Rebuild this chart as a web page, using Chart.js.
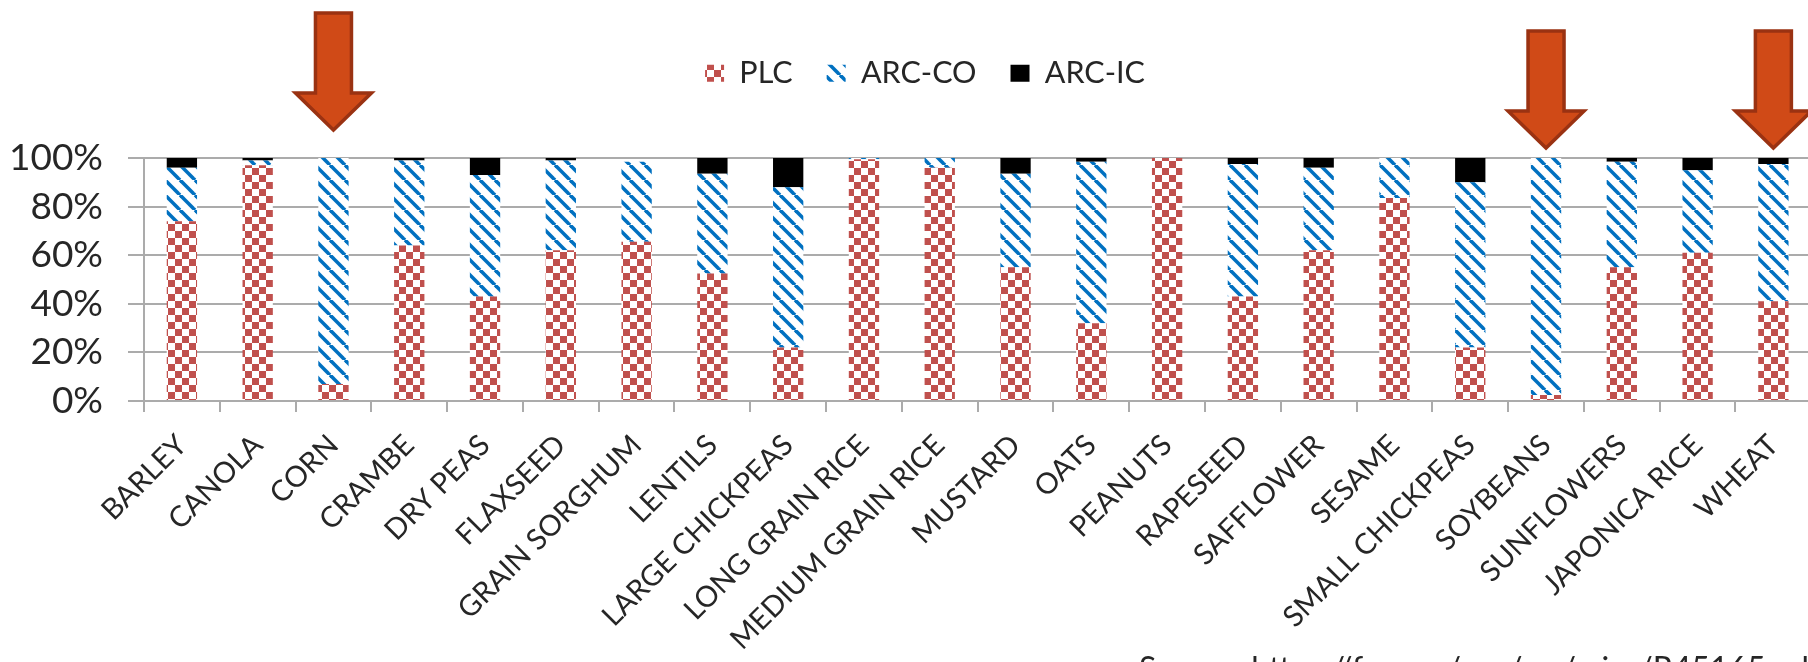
<!DOCTYPE html>
<html>
<head>
<meta charset="utf-8">
<title>PLC / ARC-CO / ARC-IC by crop</title>
<script src="https://cdn.jsdelivr.net/npm/chart.js@4/dist/chart.umd.min.js"></script>
<style>
  html, body { margin: 0; padding: 0; background: #fff; overflow: hidden; }
  #wrap { width: 1808px; height: 662px; overflow: hidden; }
  canvas { display: block; }
</style>
</head>
<body>
<div id="wrap"><canvas id="chart" width="1814" height="662"></canvas></div>
<script>
// ===== DATA (share of base acres, %) =====
const crops = [
  "BARLEY", "CANOLA", "CORN", "CRAMBE", "DRY PEAS", "FLAXSEED", "GRAIN SORGHUM",
  "LENTILS", "LARGE CHICKPEAS", "LONG GRAIN RICE", "MEDIUM GRAIN RICE", "MUSTARD",
  "OATS", "PEANUTS", "RAPESEED", "SAFFLOWER", "SESAME", "SMALL CHICKPEAS",
  "SOYBEANS", "SUNFLOWERS", "JAPONICA RICE", "WHEAT"
];
const plc   = [74, 97, 7, 64, 43, 62, 65.5, 52.5, 22, 99.5, 96, 55, 32, 100, 43, 62, 83.5, 22, 2.5, 55, 61, 41];
const arcCo = [22, 2, 93, 35, 50, 37, 33, 41, 66, 0.5, 4, 38.5, 66.5, 0, 54.5, 34, 16.5, 68, 97.5, 43.5, 34, 56.5];
const arcIc = [4, 1, 0, 1, 7, 1, 0, 6.5, 12, 0, 0, 6.5, 1.5, 0, 2.5, 4, 0, 10, 0, 1.5, 5, 2.5];
const yTicks = [0, 20, 40, 60, 80, 100];
const markedCrops = ["CORN", "SOYBEANS", "WHEAT"];
const sourceNote = "Source: https://fas.org/sgp/crs/misc/R45165.pdf";

const TEXT = "#262626";
const GRID = "#ABABAB";

// ===== PATTERNS =====
function checkerPattern(color) {
  const c = document.createElement("canvas");
  c.width = c.height = 14;
  const x = c.getContext("2d");
  x.fillStyle = "#fff";
  x.fillRect(0, 0, 14, 14);
  x.fillStyle = color;
  x.fillRect(0, 0, 7, 7);
  x.fillRect(7, 7, 7, 7);
  return x.createPattern(c, "repeat");
}

function stripePattern(color) {
  const s = 15;
  const c = document.createElement("canvas");
  c.width = c.height = s;
  const x = c.getContext("2d");
  x.fillStyle = "#fff";
  x.fillRect(0, 0, s, s);
  x.strokeStyle = color;
  x.lineWidth = 3.6;
  for (let k = -1; k <= 1; k++) {
    x.beginPath();
    x.moveTo(k * s, 0);
    x.lineTo(k * s + s, s);
    x.stroke();
  }
  return x.createPattern(c, "repeat");
}

// ===== PLUGINS =====
// legend keeps the band above the plot (arrows live there too)
const legendBand = {
  id: "legendBand",
  beforeInit(chart) {
    const fit = chart.legend.fit;
    chart.legend.fit = function () {
      fit.call(this);
      this.height = 134;
    };
  },
  afterLayout(chart) {
    chart.legend.left += 18;
    chart.legend.right += 18;
  }
};

const arrowsAndNote = {
  id: "arrowsAndNote",
  afterDraw(chart) {
    const ctx = chart.ctx;
    const xs = chart.scales.x;
    ctx.save();
    markedCrops.forEach((name, i) => {
      const cx = xs.getPixelForValue(crops.indexOf(name));
      const top = i === 0 ? 13 : 31;
      const headY = top + 80, tipY = top + 117;
      ctx.beginPath();
      ctx.moveTo(cx - 18, top);
      ctx.lineTo(cx + 18, top);
      ctx.lineTo(cx + 18, headY);
      ctx.lineTo(cx + 38, headY);
      ctx.lineTo(cx, tipY);
      ctx.lineTo(cx - 38, headY);
      ctx.lineTo(cx - 18, headY);
      ctx.closePath();
      ctx.fillStyle = "#D04A17";
      ctx.fill();
      ctx.lineWidth = 3.5;
      ctx.lineJoin = "miter";
      ctx.strokeStyle = "#9A3212";
      ctx.stroke();
    });
    ctx.font = "32px Lato";
    ctx.fillStyle = TEXT;
    ctx.textAlign = "left";
    ctx.textBaseline = "alphabetic";
    ctx.fillText(sourceNote, 1139, 680);
    ctx.restore();
  }
};

// ===== CHART =====
const ctx = document.getElementById("chart");
new Chart(ctx, {
  type: "bar",
  data: {
    labels: crops,
    datasets: [
      { label: "PLC", data: plc, backgroundColor: checkerPattern("#C0504D") },
      { label: "ARC-CO", data: arcCo, backgroundColor: stripePattern("#0070C0") },
      { label: "ARC-IC", data: arcIc, backgroundColor: "#000" }
    ]
  },
  options: {
    responsive: false,
    animation: false,
    layout: { padding: { top: 24, left: 0, right: 0, bottom: 0 } },
    datasets: {
      bar: { barPercentage: 0.4, categoryPercentage: 1, borderWidth: 0 }
    },
    plugins: {
      legend: {
        position: "top",
        labels: {
          boxWidth: 19,
          boxHeight: 17,
          padding: 34,
          color: TEXT,
          font: { family: "Lato", size: 30.5 }
        }
      },
      tooltip: { enabled: false }
    },
    scales: {
      x: {
        stacked: true,
        offset: true,
        afterFit(scale) { scale.height = 261; },
        grid: {
          offset: true,
          drawOnChartArea: false,
          drawTicks: true,
          tickLength: 11,
          color: GRID,
          lineWidth: 2
        },
        border: { color: GRID, width: 2 },
        ticks: {
          autoSkip: false,
          minRotation: 45,
          maxRotation: 45,
          padding: 16,
          color: TEXT,
          font: { family: "Lato", size: 29 }
        }
      },
      y: {
        stacked: true,
        min: 0,
        max: 100,
        afterFit(scale) { scale.width = 144; },
        afterBuildTicks(scale) { scale.ticks = yTicks.map(v => ({ value: v })); },
        grid: { color: GRID, lineWidth: 2, tickLength: 16 },
        border: { color: GRID, width: 2 },
        ticks: {
          padding: 25,
          color: TEXT,
          font: { family: "Lato", size: 37 },
          callback: v => v + "%"
        }
      }
    }
  },
  plugins: [legendBand, arrowsAndNote]
});
</script>
</body>
</html>
